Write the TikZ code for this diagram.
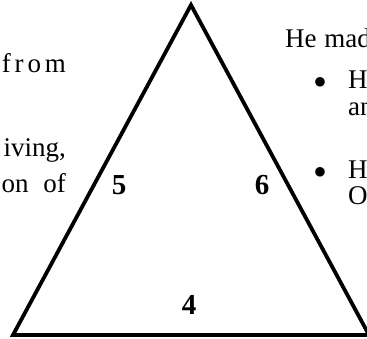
\documentclass[tikz,border=0pt]{standalone}
\usepackage{fontspec}
\setmainfont{Liberation Serif}
\begin{document}
\begin{tikzpicture}[x=1pt,y=-1pt,
  txt/.style={inner sep=0pt,font=\fontsize{27}{30}\selectfont},
  num/.style={inner sep=0pt,font=\fontsize{29}{30}\selectfont\bfseries},
  side/.style={line width=3.8pt,line join=miter}]
\useasboundingbox (0,0) rectangle (367,339);
\begin{scope}
\clip (0,0) rectangle (367,339);
\coordinate (A) at (191,5);
\coordinate (B) at (13,335);
\coordinate (C) at (369,335);
\draw[side] (A) -- (B) -- (C) -- cycle;
\end{scope}
\node[num] (n5) at (119,185) {5};
\node[num] (n6) at (262,185) {6};
\node[num] (n4) at (189,305) {4};
% left column fragments
\node[txt,anchor=base east] (l1) at (66,73) {\addfontfeatures{LetterSpace=14}from};
\node[txt,anchor=base east] (l2) at (66,157) {iving,};
\node[txt,anchor=base east] (l3) at (66,193) {on\hspace{8pt} of};
% right column fragments
\node[txt,anchor=base west] (r1) at (285,48) {He\hspace{1pt} made};
\node[txt,anchor=base] (b1) at (320,89) {$\bullet$};
\node[txt,anchor=base west] (r2) at (348,89) {H};
\node[txt,anchor=base west] (r3) at (348,116) {an};
\node[txt,anchor=base] (b2) at (320,179) {$\bullet$};
\node[txt,anchor=base west] (r4) at (348,179) {H};
\node[txt,anchor=base west] (r5) at (348,205) {O};
\end{tikzpicture}
\end{document}
